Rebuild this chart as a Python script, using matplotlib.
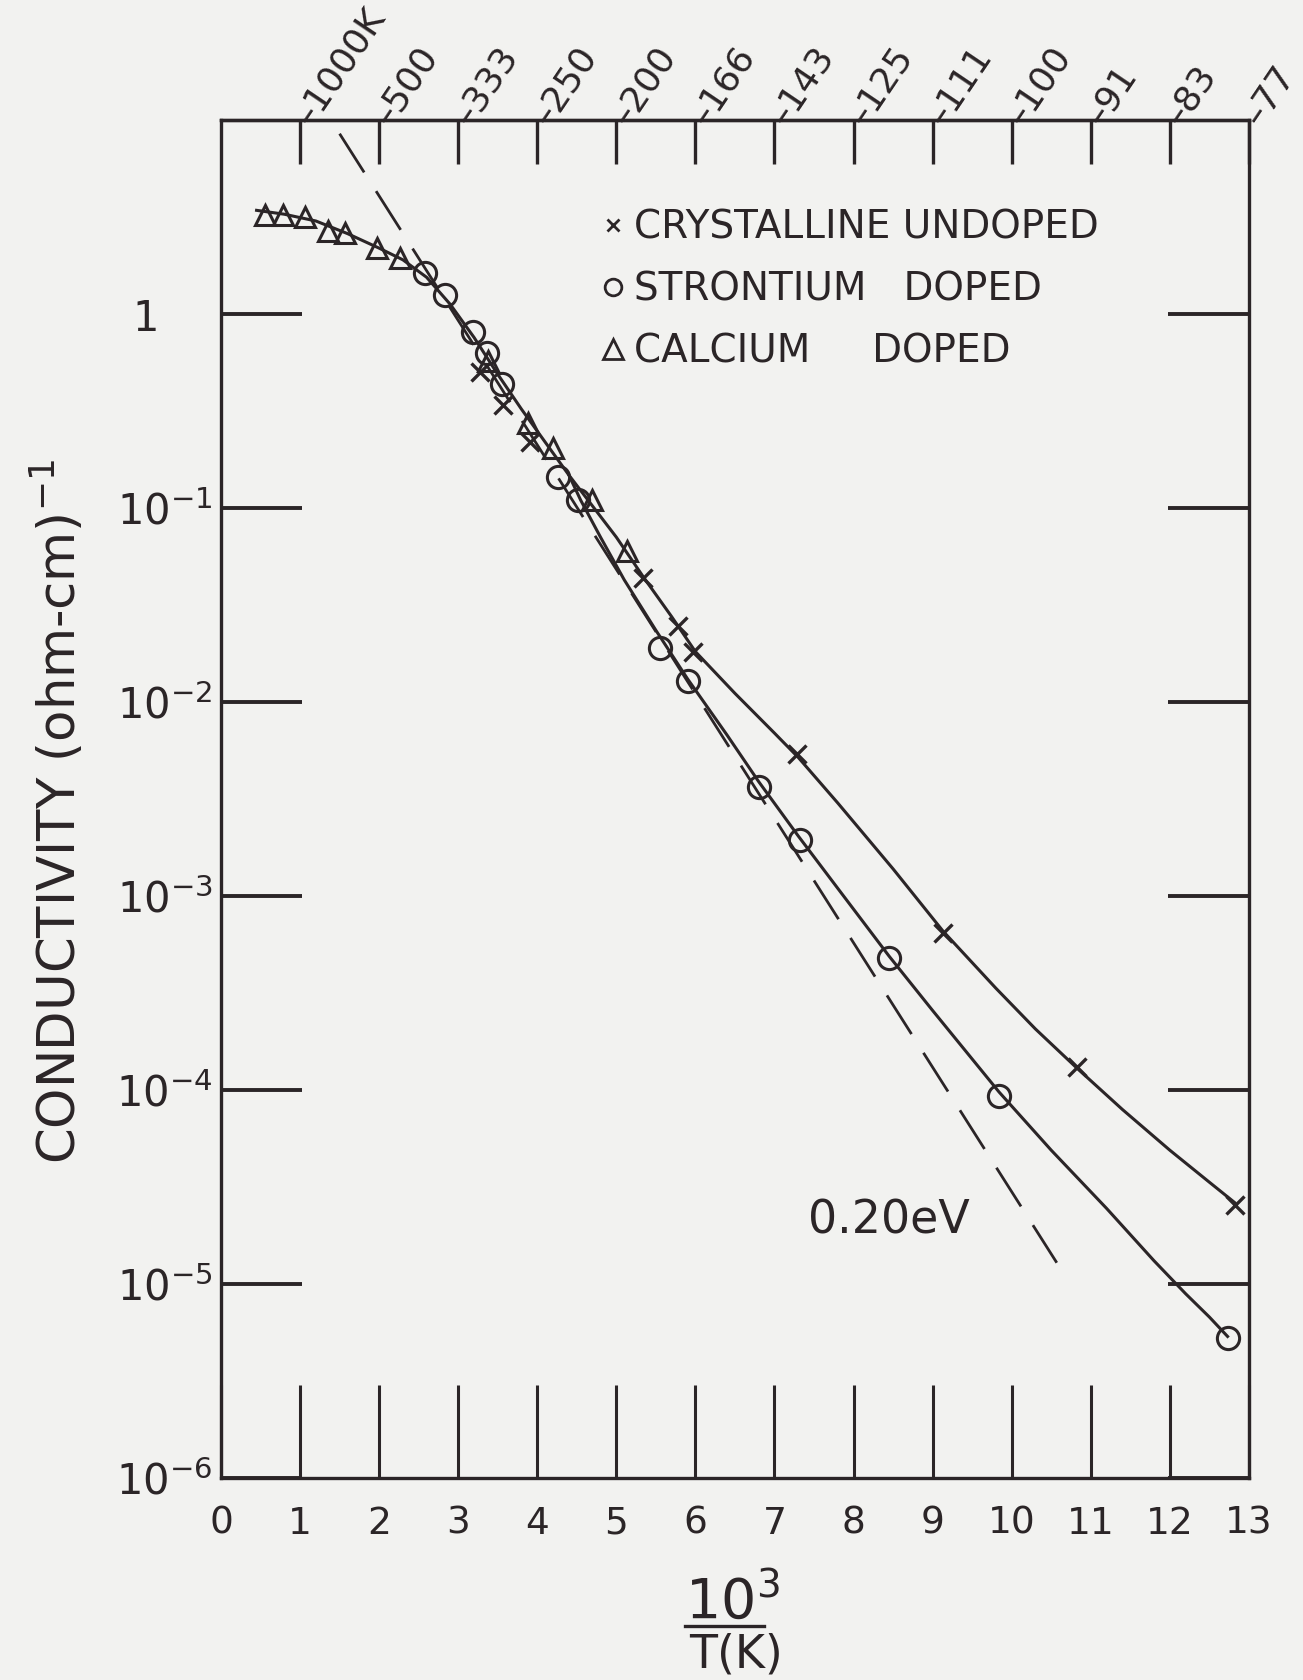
import numpy as np
import matplotlib
matplotlib.use('Agg')
import matplotlib.pyplot as plt
from matplotlib.lines import Line2D
from matplotlib.ticker import NullLocator

# conductivity data, x = 10^3/T, values given as log10(sigma)
undoped_x   = [3.27, 3.57, 3.91, 5.34, 5.78, 5.97, 7.29, 9.13, 10.82, 12.82]
undoped_log = [-0.30, -0.47, -0.66, -1.36, -1.61, -1.74, -2.27, -3.19, -3.88, -4.59]

sr_x   = [2.58, 2.83, 3.19, 3.36, 3.55, 4.26, 4.51, 5.55, 5.90, 6.80, 7.32, 8.45, 9.84, 12.73]
sr_log = [0.21, 0.10, -0.09, -0.20, -0.36, -0.84, -0.96, -1.72, -1.89, -2.44, -2.71, -3.32, -4.03, -5.28]

ca_x   = [0.56, 0.78, 1.06, 1.35, 1.57, 1.97, 2.26, 3.38, 3.88, 4.20, 4.69, 5.13]
ca_log = [0.51, 0.51, 0.50, 0.43, 0.42, 0.34, 0.29, -0.24, -0.56, -0.69, -0.96, -1.22]

# hand drawn fit curves (knots)
fitA_x   = [0.45, 0.8, 1.2, 1.6, 2.0, 2.3, 2.6, 2.9, 3.2, 3.5, 3.8, 4.1, 4.4, 4.7, 5.0,
            5.35, 5.7, 6.0, 6.5, 7.0, 7.3, 7.8, 8.5, 9.13, 9.8, 10.3, 10.82, 11.4, 12.0, 12.5, 12.82]
fitA_log = [0.535, 0.515, 0.48, 0.415, 0.34, 0.28, 0.19, 0.05, -0.12, -0.31, -0.49, -0.66, -0.83, -0.99, -1.15,
            -1.36, -1.56, -1.74, -1.955, -2.16, -2.285, -2.52, -2.86, -3.18, -3.475, -3.685, -3.885,
            -4.10, -4.31, -4.475, -4.58]
fitB_x   = [4.4, 4.55, 4.8, 5.1, 5.5, 5.9, 6.4, 6.8, 7.3, 7.8, 8.45, 9.0, 9.84, 10.5, 11.2,
            11.8, 12.2, 12.5, 12.73]
fitB_log = [-0.83, -0.96, -1.15, -1.37, -1.63, -1.88, -2.17, -2.41, -2.69, -2.96, -3.31, -3.59, -4.01,
            -4.31, -4.61, -4.88, -5.05, -5.17, -5.27]

# 0.20 eV reference slope
ev_x   = [1.5, 10.57]
ev_log = [0.93, -4.89]

top_temps = ['1000K', '500', '333', '250', '200', '166', '143', '125', '111', '100', '91', '83', '77']
legend_labels = ['CRYSTALLINE UNDOPED', 'STRONTIUM   DOPED', 'CALCIUM     DOPED']

ink = '#2b2527'
paper = '#f2f2f0'

plt.rcParams['font.family'] = ['DejaVu Sans']
plt.rcParams['mathtext.fontset'] = 'dejavusans'
plt.rcParams['lines.scale_dashes'] = False
plt.rcParams['text.color'] = ink

fig = plt.figure(figsize=(13.03, 16.80), dpi=100, facecolor=paper)
ax = fig.add_axes([0.1696, 0.1202, 0.7889, 0.8083], facecolor=paper)
ax.set_yscale('log')
ax.set_xlim(0, 13)
ax.set_ylim(1e-6, 10)

for s in ax.spines.values():
    s.set_linewidth(2.4)
    s.set_color(ink)

# curves
ax.plot(fitA_x, 10.0 ** np.array(fitA_log), '-', color=ink, lw=2.2, zorder=2)
ax.plot(fitB_x, 10.0 ** np.array(fitB_log), '-', color=ink, lw=2.2, zorder=2)
ax.plot(ev_x, 10.0 ** np.array(ev_log), color=ink, lw=2.0, dashes=(33, 16), zorder=1)

# data points
ax.plot(undoped_x, 10.0 ** np.array(undoped_log), 'x', color=ink, ms=13, mew=2.4, zorder=3)
ax.plot(sr_x, 10.0 ** np.array(sr_log), 'o', color=ink, mfc='none', ms=16, mew=2.2, zorder=3)
ax.plot(ca_x, 10.0 ** np.array(ca_log), '^', color=ink, mfc='none', ms=15, mew=2.2, zorder=3)

# bottom axis
ax.set_xticks(range(14))
ax.set_xticklabels([str(i) for i in range(14)], fontsize=27)
ax.tick_params(axis='x', direction='in', length=67, width=2.2, pad=20, colors=ink)

# left/right axis
ax.set_yticks([10.0 ** k for k in range(-6, 1)])
ax.set_yticklabels(['$10^{%d}$' % k for k in range(-6, 0)] + ['1\u2007\u2007'], fontsize=30)
ax.yaxis.set_minor_locator(NullLocator())
ax.tick_params(axis='y', direction='in', length=58, width=2.8, left=True, right=True, pad=6, colors=ink)

# temperature scale on top
top = ax.secondary_xaxis('top')
top.set_xticks(range(1, 14))
top.set_xticklabels(['\u2013' + t for t in top_temps], rotation=56, ha='left',
                    va='center_baseline', rotation_mode='anchor', fontsize=26)
top.tick_params(direction='in', length=32, width=2.4, pad=0, colors=ink)
top.spines['top'].set_linewidth(2.4)
top.spines['top'].set_color(ink)

# legend
handles = [Line2D([], [], marker='x', ls='none', color=ink, ms=9, mew=2),
           Line2D([], [], marker='o', ls='none', color=ink, mfc='none', ms=12, mew=2),
           Line2D([], [], marker='^', ls='none', color=ink, mfc='none', ms=14, mew=2)]
ax.legend(handles, legend_labels, loc='upper left', bbox_to_anchor=(0.37, 0.935), frameon=False,
          handlelength=0.6, handletextpad=0.25, labelspacing=0.62, fontsize=28,
          borderaxespad=0, borderpad=0)

ax.text(7.43, 10 ** -4.74, '0.20eV', fontsize=33, va='baseline', ha='left')

# axis titles
fig.text(0.045, 0.517, 'CONDUCTIVITY (ohm-cm)$^{-1}$', rotation=90, ha='center', va='center',
         fontsize=37)
fig.text(0.562, 1 - 1618 / 1680, '$10^{3}$', ha='center', va='baseline', fontsize=40)
fig.add_artist(Line2D([0.526, 0.586], [1 - 1626 / 1680] * 2, color=ink, lw=2.4))
fig.text(0.565, 1 - 1633 / 1680, 'T(K)', ha='center', va='top', fontsize=33)

fig.savefig('out.png', dpi=100, facecolor=paper)
